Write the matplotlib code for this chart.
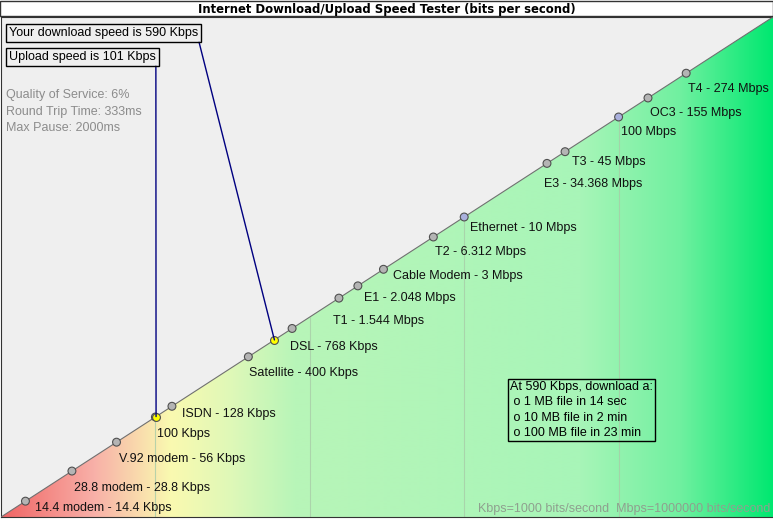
import numpy as np
import matplotlib
matplotlib.use('Agg')
import matplotlib.pyplot as plt
from matplotlib.patches import Polygon, Rectangle
from matplotlib.colors import to_rgb

# connection types along the diagonal (bits per second)
names = ['14.4 modem - 14.4 Kbps', '28.8 modem - 28.8 Kbps', 'V.92 modem - 56 Kbps',
         '100 Kbps', 'ISDN - 128 Kbps', 'Satellite - 400 Kbps', 'DSL - 768 Kbps',
         'T1 - 1.544 Mbps', 'E1 - 2.048 Mbps', 'Cable Modem - 3 Mbps', 'T2 - 6.312 Mbps',
         'Ethernet - 10 Mbps', 'E3 - 34.368 Mbps', 'T3 - 45 Mbps', '100 Mbps',
         'OC3 - 155 Mbps', 'T4 - 274 Mbps']
speeds = [14.4e3, 28.8e3, 56e3, 100e3, 128e3, 400e3, 768e3, 1.544e6, 2.048e6, 3e6,
          6.312e6, 10e6, 34.368e6, 45e6, 100e6, 155e6, 274e6]
decades = [1e5, 1e6, 1e7, 1e8]

download = 590e3
upload = 101e3
stats = ['Quality of Service: 6%', 'Round Trip Time: 333ms', 'Max Pause: 2000ms']
info = ['At 590 Kbps, download a:', ' o 1 MB file in 14 sec',
        ' o 10 MB file in 2 min', ' o 100 MB file in 23 min']
lims = [1e4, 1e9]

# label offsets in pixels (right, down) from each marker
offsets = [(10, 7), (2, 17), (2, 17), (2, 17), (10, 8), (1, 16), (-2, 19), (-6, 23),
           (6, 12), (10, 7), (2, 15), (6, 11), (-3, 21), (7, 10), (2, 15), (2, 15), (2, 16)]

W, H = 773, 523
fig = plt.figure(figsize=(W / 100, H / 100), dpi=100)
plt.rcParams['font.family'] = ['Liberation Sans', 'DejaVu Sans']

ax = fig.add_axes([1 / W, 6 / H, 772 / W, 500 / H])
ax.set_facecolor('#efefef')
ax.set_xscale('log')
ax.set_yscale('log')
ax.set_xlim(lims)
ax.set_ylim(lims)
ax.set_xticks([])
ax.set_yticks([])
ax.minorticks_off()
for s in ax.spines.values():
    s.set_color('#333333')
ax.spines['right'].set_visible(False)

# gradient fill under the diagonal
stops = [0.0, 0.12, 0.22, 0.30, 0.38, 0.75, 0.88, 1.0]
cols = ['#f06464', '#f8b0a8', '#fafab0', '#def8b8', '#b8f5b8', '#a8f5b8', '#70f0a0', '#00e870']
rgb = np.array([to_rgb(c) for c in cols])
xs = np.linspace(0, 1, W)
grad = np.stack([np.interp(xs, stops, rgb[:, i]) for i in range(3)], axis=-1)
grad = np.repeat(grad[None, :, :], 2, axis=0)
im = ax.imshow(grad, extent=(0, 1, 0, 1), transform=ax.transAxes, aspect='auto', zorder=1)
tri = Polygon([(0, 0), (1, 1), (1, 0)], closed=True, transform=ax.transAxes)
im.set_clip_path(tri)

ax.vlines(decades, lims[0], decades, color='#a8cca8', lw=0.8, alpha=0.8, zorder=2)
ax.plot(lims, lims, color='#707070', lw=0.8, zorder=3)

fc = []
for v in speeds:
    fc.append('#aab0dd' if v in decades else '#b4b4b4')
ax.scatter(speeds, speeds, s=32, c=fc, edgecolors='#505050', linewidths=0.8, zorder=4)
ax.scatter([upload, download], [upload, download], s=32, c='#ffff00',
           edgecolors='#505050', linewidths=0.8, zorder=5)

for n, v, (dx, dy) in zip(names, speeds, offsets):
    ax.annotate(n, (v, v), xytext=(dx, -dy), textcoords='offset pixels',
                ha='left', va='center', fontsize=9, color='#111111', zorder=6)

box = dict(boxstyle='square,pad=0.22', fc='none', ec='black', lw=1)
line = dict(arrowstyle='-', color='#000080', lw=1, shrinkA=0, shrinkB=0, relpos=(1, 0))
ax.annotate('Your download speed is 590 Kbps', (download, download),
            xytext=(9, H - 33), textcoords='figure pixels', ha='left', va='center',
            fontsize=9, bbox=box, arrowprops=line, zorder=7)
ax.annotate('Upload speed is 101 Kbps', (upload, upload),
            xytext=(9, H - 57), textcoords='figure pixels', ha='left', va='center',
            fontsize=9, bbox=box, arrowprops=line, zorder=7)

for i, t in enumerate(stats):
    fig.text(6 / W, 1 - (95 + 16.5 * i) / H, t, ha='left', va='center',
             fontsize=9, color='#8c8c8c')

fig.text(510 / W, 1 - 410 / H, '\n'.join(info), ha='left', va='center', fontsize=9,
         linespacing=1.35, bbox=dict(boxstyle='square,pad=0.2', fc='none', ec='black', lw=1))

fig.text(770 / W, 1 - 509 / H, 'Kbps=1000 bits/second  Mbps=1000000 bits/second',
         ha='right', va='center', fontsize=9, color='#8fa08f')

# title bar
fig.add_artist(Rectangle((0, 1 - 16.5 / H), 1, 15.5 / H, transform=fig.transFigure,
                         fc='white', ec='#333333', lw=1))
fig.text(0.5, 1 - 9 / H, 'Internet Download/Upload Speed Tester (bits per second)',
         ha='center', va='center', fontsize=8.4, fontweight='bold', family='DejaVu Sans')

fig.savefig('out.png', dpi=100)
